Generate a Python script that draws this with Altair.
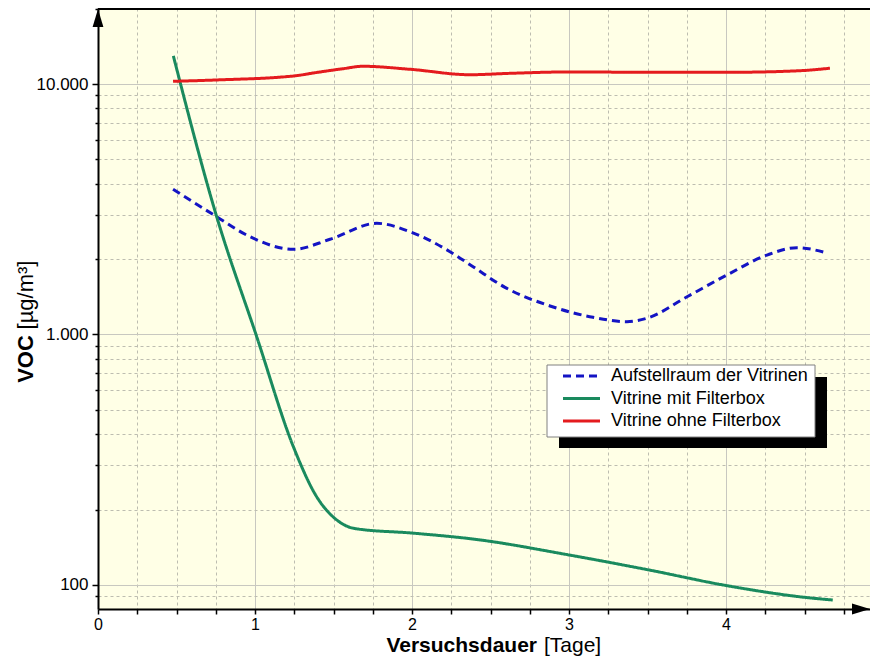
import altair as alt
import pandas as pd

# ---------------- data ----------------
series_names = ["Aufstellraum der Vitrinen", "Vitrine mit Filterbox", "Vitrine ohne Filterbox"]
series_colors = ["#1414C4", "#1A8A5E", "#E41B1E"]
series_dash = [[8, 5], [1, 0], [1, 0]]

blue_x = [0.478, 0.756, 0.968, 1.244, 1.478, 1.775, 1.987, 2.242, 2.389, 2.592, 2.879,
          3.153, 3.369, 3.497, 3.752, 4.006, 4.261, 4.452, 4.650]
blue_y = [3800, 2953, 2457, 2188, 2399, 2779, 2573, 2141, 1865, 1543, 1300,
          1171, 1125, 1161, 1415, 1728, 2075, 2221, 2108]

green_x = [0.480, 0.756, 1.011, 1.244, 1.393, 1.520, 1.636, 2.010, 2.410, 3.000,
           3.510, 4.017, 4.500, 4.680]
green_y = [12940, 2953, 980, 357, 225, 182, 168, 161, 152, 131.8,
           114.8, 99.1, 89.3, 87.1]

red_x = [0.478, 0.758, 1.242, 1.400, 1.560, 1.688, 1.987, 2.369, 2.624, 2.987,
         3.516, 4.045, 4.471, 4.662]
red_y = [10250, 10380, 10760, 11135, 11510, 11770, 11450, 10890, 11030, 11170,
         11140, 11140, 11300, 11560]

x_tick_values = [i * 0.25 for i in range(20)]

# ---------------- layout ----------------
W = 772
H = 601
PX_PER_DAY = 157
x_max = W / PX_PER_DAY
y_dom = [80.2, 20110]
FONT = "Liberation Sans"

y_tick_values = [m * 10 ** e for e in range(1, 5) for m in range(1, 10)
                 if y_dom[0] <= m * 10 ** e <= y_dom[1]]

rows = []
for name, xs, ys in [(series_names[0], blue_x, blue_y),
                     (series_names[1], green_x, green_y),
                     (series_names[2], red_x, red_y)]:
    for a, b in zip(xs, ys):
        rows.append({"series": name, "t": a, "voc": b})
df = pd.DataFrame(rows)
one = pd.DataFrame({"a": [0]})

major_test = "indexof([100, 1000, 10000], datum.value) >= 0"

x_axis = alt.Axis(
    values=x_tick_values,
    labelExpr="datum.value % 1 === 0 ? format(datum.value, 'd') : ''",
    tickSize=5,
    labelPadding=2,
    labelFontSize=16,
    gridDash={"condition": {"test": "datum.value % 1 === 0", "value": []}, "value": [3, 3]},
    gridColor={"condition": {"test": "datum.value % 1 === 0", "value": "#C8C8C0"}, "value": "#BDBDB0"},
    labelOverlap=False,
    labelFlush=False,
    title=None,
)
y_axis = alt.Axis(
    values=y_tick_values,
    labelExpr=major_test + " ? replace(format(datum.value, ','), ',', '.') : ''",
    tickSize={"condition": {"test": major_test, "value": 6}, "value": 3},
    labelPadding=4,
    labelFontSize=17,
    gridDash={"condition": {"test": major_test, "value": []}, "value": [3, 3]},
    gridColor={"condition": {"test": major_test, "value": "#C8C8C0"}, "value": "#BDBDB0"},
    labelOverlap=False,
    labelFlush=False,
    title=None,
)

lines = alt.Chart(df).mark_line(strokeWidth=3, interpolate="monotone").encode(
    x=alt.X("t:Q", scale=alt.Scale(domain=[0, x_max], nice=False, zero=False), axis=x_axis),
    y=alt.Y("voc:Q", scale=alt.Scale(type="log", domain=y_dom, nice=False), axis=y_axis),
    color=alt.Color("series:N", scale=alt.Scale(domain=series_names, range=series_colors), legend=None),
    strokeDash=alt.StrokeDash("series:N", scale=alt.Scale(domain=series_names, range=series_dash), legend=None),
    order=alt.Order("t:Q"),
)

layers = [lines]

# legend (manual, with drop shadow)
layers.append(alt.Chart(one).mark_rect(color="black").encode(
    x=alt.value(461), x2=alt.value(729), y=alt.value(369), y2=alt.value(440)))
layers.append(alt.Chart(one).mark_rect(fill="white", stroke="#808080", strokeWidth=1).encode(
    x=alt.value(449), x2=alt.value(717), y=alt.value(357), y2=alt.value(429)))
legend_rows = [368, 390.5, 413]
for name, col, dash, ry in zip(series_names, series_colors, series_dash, legend_rows):
    layers.append(alt.Chart(one).mark_rule(color=col, strokeWidth=3, strokeDash=dash).encode(
        x=alt.value(465), x2=alt.value(502), y=alt.value(ry)))
    layers.append(alt.Chart(one).mark_text(text=name, align="left", baseline="middle",
                                           font=FONT, fontSize=18, color="black").encode(
        x=alt.value(513), y=alt.value(ry)))

# frame top line and arrows
layers.append(alt.Chart(one).mark_rule(color="black", strokeWidth=2).encode(
    x=alt.value(0), x2=alt.value(W), y=alt.value(1)))
layers.append(alt.Chart(one).mark_point(shape="M0,-1L0.6,1L-0.6,1Z", filled=True, color="black",
                                        size=324, opacity=1).encode(
    x=alt.value(0), y=alt.value(10)))
layers.append(alt.Chart(one).mark_point(shape="M1,0L-1,-0.6L-1,0.6Z", filled=True, color="black",
                                        size=324, opacity=1).encode(
    x=alt.value(W - 9), y=alt.value(H)))

# axis titles (bold + regular parts)
layers.append(alt.Chart(one).mark_text(text="Versuchsdauer", align="right", baseline="alphabetic",
                                       font=FONT, fontSize=21, fontWeight="bold", color="black").encode(
    x=alt.value(439), y=alt.value(644)))
layers.append(alt.Chart(one).mark_text(text="[Tage]", align="left", baseline="alphabetic",
                                       font=FONT, fontSize=21, color="black").encode(
    x=alt.value(446), y=alt.value(644)))
layers.append(alt.Chart(one).mark_text(text="VOC", align="center", baseline="alphabetic", angle=270,
                                       font=FONT, fontSize=22, fontWeight="bold", color="black").encode(
    x=alt.value(-65), y=alt.value(351)))
layers.append(alt.Chart(one).mark_text(text="[µg/m³]", align="center", baseline="alphabetic", angle=270,
                                       font=FONT, fontSize=22, color="black").encode(
    x=alt.value(-65), y=alt.value(287)))

chart = alt.layer(*layers).properties(
    width=W, height=H,
    autosize=alt.AutoSizeParams(type="none"),
    padding={"left": 90, "top": 0, "right": 0, "bottom": 47},
    background="white",
).configure_view(
    fill="#FFFFE6", stroke=None
).configure_axis(
    domainColor="black", domainWidth=2,
    tickColor="black", tickWidth=1.5,
    labelFont=FONT, labelColor="black",
    gridWidth=1,
)

chart.save("out.html", embed_options={"renderer": "svg", "actions": False})
